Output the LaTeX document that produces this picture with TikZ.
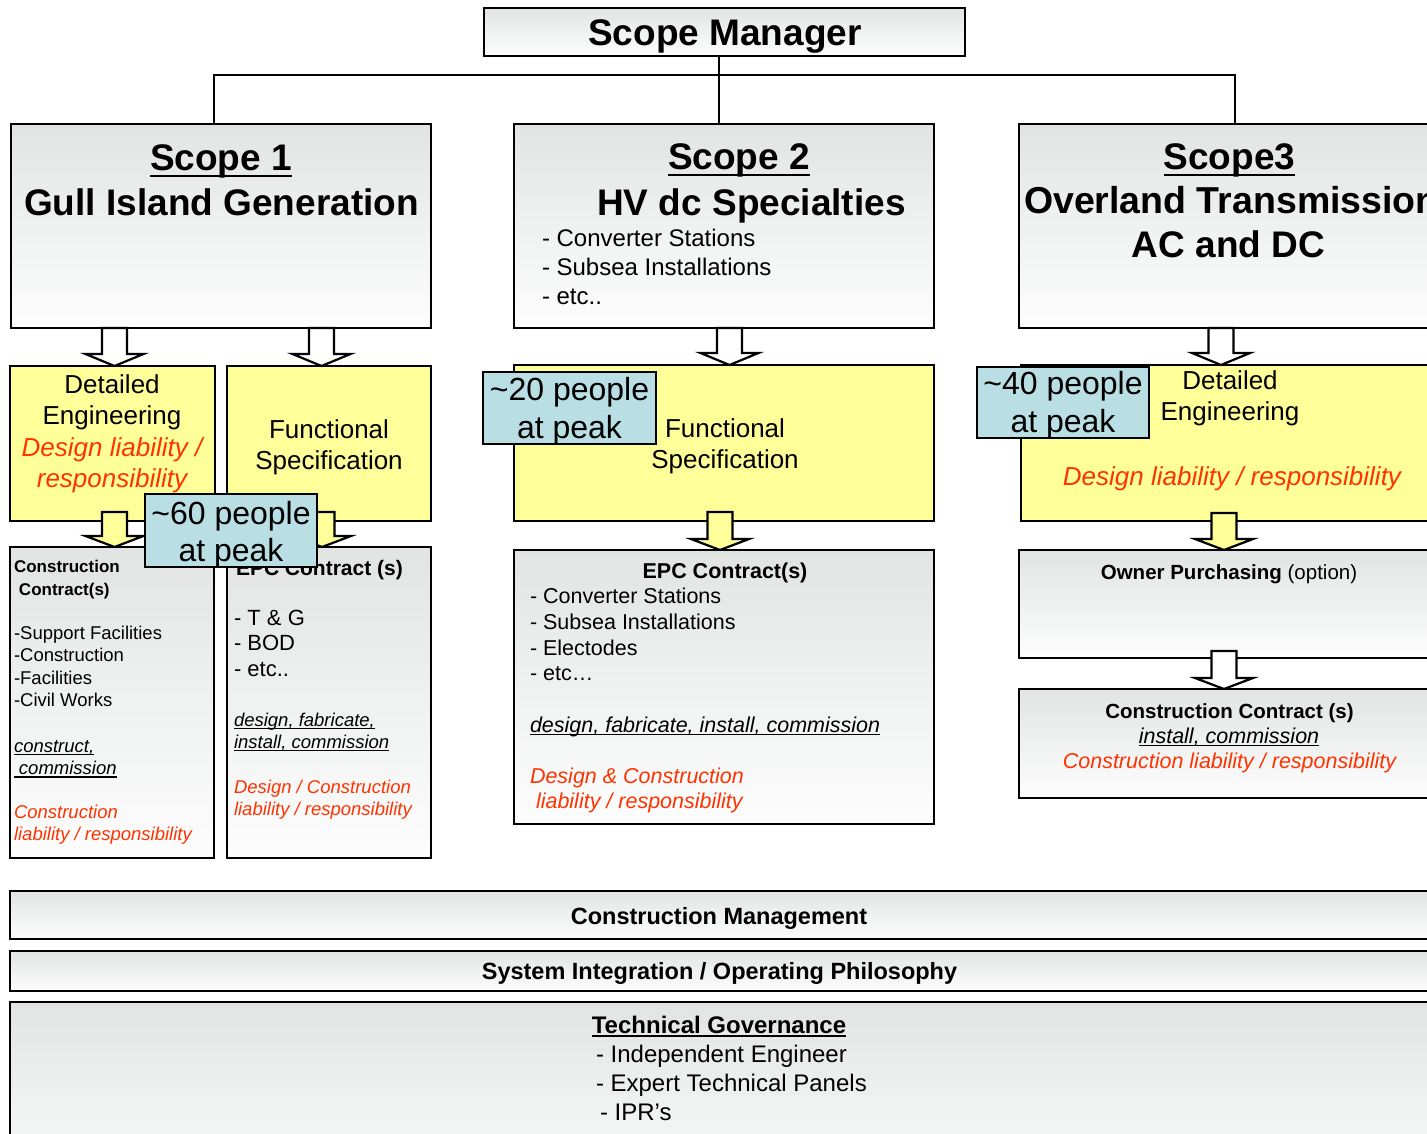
\documentclass[tikz,border=0pt]{standalone}
\usepackage{fontspec}
\setmainfont{Liberation Sans}
\usetikzlibrary{calc}

\definecolor{boxtop}{RGB}{226,228,228}
\definecolor{boxbot}{RGB}{253,253,253}
\definecolor{notepad}{RGB}{255,255,153}
\definecolor{headcount}{RGB}{185,222,227}
\definecolor{liab}{RGB}{255,51,0}

% underline drawn at a fixed depth so it crosses the descenders
\newlength\ulwd
\newcommand\ulined[1]{\settowidth{\ulwd}{#1}\rlap{\rule[-0.16em]{\ulwd}{0.065em}}#1}
\newcommand\fsz[2]{\fontsize{#1}{#2}\selectfont}
\newcommand\liabtext{\color{liab}\itshape}

% hollow block arrow: fill colour, top of shaft, tip, head length
\newcommand\blockarrow[4]{%
  \draw[arrowline, fill=#1] let \p1=#2, \p2=#3 in
    (\x2-12.5pt,\y1) -- (\x2+12.5pt,\y1) -- (\x2+12.5pt,\y2+#4) -- (\x2+29pt,\y2+#4)
    -- (\x2,\y2) -- (\x2-29pt,\y2+#4) -- (\x2-12.5pt,\y2+#4) -- cycle;}

\begin{document}
% multi-line labels are placed by the baseline of their last line
\begin{tikzpicture}[x=1pt,y=-1pt,
  every node/.style={inner sep=0pt, outer sep=0pt},
  frame/.style={draw=black, line width=2.4pt, anchor=north west, rectangle},
  graybox/.style={frame, top color=boxtop, bottom color=boxbot},
  notebox/.style={frame, fill=notepad},
  countbox/.style={frame, fill=headcount, line width=2.8pt},
  arrowline/.style={draw=black, line width=2.2pt, line join=miter},
  conn/.style={draw=black, line width=2pt},
  lbl/.style={anchor=base, align=center},
  lbll/.style={anchor=base west, align=left},
]
\useasboundingbox (0,0) rectangle (1427,1134);
\fill[white] (0,0) rectangle (1427,1134);
\clip (0,0) rectangle (1427,1134);

% ---------- boxes ----------
\node[graybox, minimum width=481, minimum height=48] (mgr) at (484,8) {};
\node[graybox, minimum width=420, minimum height=204] (s1) at (11,124) {};
\node[graybox, minimum width=420, minimum height=204] (s2) at (514,124) {};
\node[graybox, minimum width=450, minimum height=204] (s3) at (1019,124) {};

\node[notebox, minimum width=205, minimum height=155] (de1) at (10,366) {};
\node[notebox, minimum width=204, minimum height=155] (fs1) at (227,366) {};
\node[notebox, minimum width=420, minimum height=156] (fs2) at (514,365) {};
\node[notebox, minimum width=450, minimum height=156] (de3) at (1021,365) {};

\node[graybox, minimum width=204, minimum height=311] (cc1) at (10,547) {};
\node[graybox, minimum width=204, minimum height=311] (epc1) at (227,547) {};
\node[graybox, minimum width=420, minimum height=274] (epc2) at (514,550) {};
\node[graybox, minimum width=450, minimum height=108] (op) at (1019,550) {};
\node[graybox, minimum width=450, minimum height=109] (cc3) at (1019,689) {};

\node[graybox, minimum width=1460, minimum height=48] (cm) at (10,891) {};
\node[graybox, minimum width=1460, minimum height=40] (si) at (10,951) {};
\node[graybox, minimum width=1460, minimum height=200] (tg) at (10,1002) {};

% ---------- reporting lines ----------
\coordinate (j1) at (214,75);
\coordinate (j2) at (719,75);
\coordinate (j3) at (1235,75);
\draw[conn] (j2 |- mgr.south) -- (j2 |- s2.north);
\draw[conn] (j1 |- s1.north) -- (j1) -- (j3) -- (j3 |- s3.north);

% ---------- block arrows ----------
\blockarrow{white}{(114.5,0 |- s1.south)}{(114.5,0 |- de1.north)}{12pt}
\blockarrow{white}{(321.5,0 |- s1.south)}{(321.5,0 |- fs1.north)}{12pt}
\blockarrow{white}{(729.5,0 |- s2.south)}{(729.5,0 |- fs2.north)}{12pt}
\blockarrow{white}{(1221,0 |- s3.south)}{(1221,0 |- de3.north)}{12pt}
\blockarrow{notepad}{($(114.5,0 |- de1.south)+(0,-9)$)}{(114.5,0 |- cc1.north)}{11pt}
\blockarrow{notepad}{($(322,0 |- fs1.south)+(0,-9)$)}{(322,0 |- epc1.north)}{11pt}
\blockarrow{notepad}{($(720,0 |- fs2.south)+(0,-9)$)}{(720,0 |- epc2.north)}{11pt}
\blockarrow{notepad}{($(1224,0 |- de3.south)+(0,-8)$)}{(1224,0 |- op.north)}{11pt}
\blockarrow{white}{($(1224,0 |- op.south)+(0,-7)$)}{(1224,0 |- cc3.north)}{11pt}

% ---------- texts ----------
\node[lbl, font=\fsz{37}{44}\bfseries] (t-mgr) at (725,46) {Scope Manager};

\node[lbl, font=\fsz{37}{44}\bfseries] (t-s1a) at (221,171) {\ulined{Scope 1}};
\node[lbl, font=\fsz{37}{44}\bfseries] (t-s1b) at (221.5,215) {Gull Island Generation};

\node[lbl, font=\fsz{37}{44}\bfseries] (t-s2a) at (739,170) {\ulined{Scope 2}};
\node[lbl, font=\fsz{37}{44}\bfseries] (t-s2b) at (751.5,215) {HV dc Specialties};
\node[lbll, font=\fsz{24}{29}] (t-s2c) at (542,304) {- Converter Stations\\- Subsea Installations\\- etc..};

\node[lbl, font=\fsz{37}{44}\bfseries] (t-s3a) at (1229.5,170) {\ulined{Scope3}};
\node[anchor=base west, font=\fsz{37.5}{44}\bfseries] (t-s3b) at (1024,214) {Overland Transmission};
\node[lbl, font=\fsz{37}{44}\bfseries] (t-s3c) at (1228.5,258) {AC and DC};

\node[lbl, font=\fsz{26}{31.5}] (t-de1) at (112,487.5)
  {Detailed\\Engineering\\{\liabtext Design liability /}\\{\liabtext responsibility}};
\node[lbl, font=\fsz{26}{31.5}] (t-fs1) at (329,469.5) {Functional\\Specification};
\node[lbl, font=\fsz{26}{31.5}] (t-fs2) at (725,468.5) {Functional\\Specification};
\node[lbl, font=\fsz{26}{31}] (t-de3) at (1230,420) {Detailed\\Engineering};
\node[lbl, font=\fsz{26}{31}\liabtext] (t-de3r) at (1232,485) {Design liability / responsibility};

\node[lbll, font=\fsz{17}{23}\bfseries] (t-cc1a) at (14,595) {Construction\\\hspace*{5pt}Contract(s)};
\node[lbll, font=\fsz{18.5}{22.6}] (t-cc1b) at (14,706.8) {-Support Facilities\\-Construction\\-Facilities\\-Civil Works};
\node[lbll, font=\fsz{18.5}{22.6}\itshape] (t-cc1c) at (14,774.6) {\ulined{construct,}\\\ulined{\hspace*{5pt}commission}};
\node[lbll, font=\fsz{18.5}{22.6}\liabtext] (t-cc1d) at (14,840.6) {Construction\\liability / responsibility};

\node[anchor=base west, font=\fsz{21}{25}\bfseries] (t-epc1a) at (236,575) {EPC Contract (s)};
\node[lbll, font=\fsz{22}{25.5}] (t-epc1b) at (234,676) {- T \& G\\- BOD\\- etc..};
\node[lbll, font=\fsz{18.5}{22.5}\itshape] (t-epc1c) at (234,748.5) {\ulined{design, fabricate,}\\\ulined{install, commission}};
\node[lbll, font=\fsz{18.5}{22.5}\liabtext] (t-epc1d) at (234,815.5) {Design / Construction\\liability / responsibility};

\node[lbl, font=\fsz{21.5}{25.7}\bfseries] (t-epc2a) at (725,578) {EPC Contract(s)};
\node[lbll, font=\fsz{21.5}{25.7}] (t-epc2b) at (530,680.8) {- Converter Stations\\- Subsea Installations\\- Electodes\\- etc…};
\node[lbll, font=\fsz{21.5}{25.7}\itshape] (t-epc2c) at (530,732) {\ulined{design, fabricate, install, commission}};
\node[lbll, font=\fsz{21.5}{25.7}\liabtext] (t-epc2d) at (530,808.7) {Design \& Construction\\\hspace*{6pt}liability / responsibility};

\node[lbl, font=\fsz{20.5}{25}] (t-op) at (1229,579) {\textbf{Owner Purchasing} (option)};
\node[lbl, font=\fsz{20.5}{25}\bfseries] (t-cc3a) at (1229.5,718) {Construction Contract (s)};
\node[lbl, font=\fsz{21.5}{25}\itshape] (t-cc3b) at (1229,743) {\ulined{install, commission}};
\node[lbl, font=\fsz{21.5}{25}\liabtext] (t-cc3c) at (1229.5,768) {Construction liability / responsibility};

\node[lbl, font=\fsz{23.5}{28}\bfseries] (t-cm) at (719,924) {Construction Management};
\node[lbl, font=\fsz{23.5}{28}\bfseries] (t-si) at (719.5,979) {System Integration / Operating Philosophy};
\node[lbl, font=\fsz{24}{29}\bfseries] (t-tg) at (719,1033) {\ulined{Technical Governance}};
\node[lbll, font=\fsz{24}{29}] (t-tgl) at (596,1120) {- Independent Engineer\\- Expert Technical Panels\\\hspace*{4pt}- IPR’s};

% ---------- head-count tags ----------
\node[countbox, minimum width=172, minimum height=73] (p60) at (145,494) {};
\node[countbox, minimum width=173, minimum height=72] (p20) at (483,372) {};
\node[countbox, minimum width=172, minimum height=71] (p40) at (977,367) {};
\node[lbl, font=\fsz{32}{37}] (t-p60) at (231,561) {\textasciitilde 60 people\\at peak};
\node[lbl, font=\fsz{32}{38}] (t-p20) at (569.5,438) {\textasciitilde 20 people\\at peak};
\node[lbl, font=\fsz{32}{38}] (t-p40) at (1063,432) {\textasciitilde 40 people\\at peak};
\end{tikzpicture}
\end{document}
